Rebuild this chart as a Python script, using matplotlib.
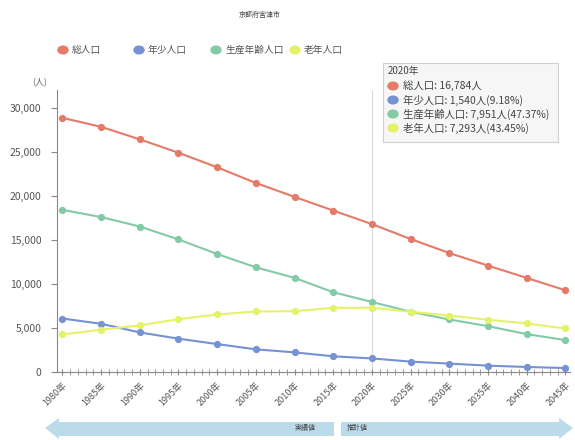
import matplotlib.pyplot as plt
import numpy as np
from matplotlib.patches import Polygon, FancyBboxPatch
from matplotlib.ticker import FuncFormatter, MultipleLocator

plt.rcParams['font.family'] = ['Noto Sans CJK JP', 'DejaVu Sans']

years = [1980, 1985, 1990, 1995, 2000, 2005, 2010, 2015, 2020, 2025, 2030, 2035, 2040, 2045]
total = [28840, 27820, 26400, 24880, 23230, 21450, 19870, 18320, 16784, 15090, 13500, 12070, 10680, 9270]
youth = [6070, 5470, 4490, 3780, 3170, 2570, 2230, 1780, 1540, 1180, 950, 720, 570, 450]
working = [18400, 17580, 16510, 15040, 13390, 11880, 10680, 9050, 7951, 6830, 5960, 5200, 4300, 3620]
elderly = [4260, 4800, 5280, 6000, 6530, 6870, 6900, 7280, 7293, 6830, 6410, 5930, 5510, 4940]

names = ['総人口', '年少人口', '生産年齢人口', '老年人口']
colors = ['#e57a68', '#7592d2', '#84caa6', '#e4f26a']
tip_text = ['総人口: 16,784人', '年少人口: 1,540人(9.18%)',
            '生産年齢人口: 7,951人(47.37%)', '老年人口: 7,293人(43.45%)']

fig = plt.figure(figsize=(5.75, 4.4), dpi=100)
ax = fig.add_axes([57/575, 1-372/440, 513/575, 282/440])

for vals, c in zip([total, youth, working, elderly], colors):
    ax.plot(years, vals, color=c, lw=1.5, marker='o', ms=4.2, zorder=3)

ax.axvline(2020, color='#d8d8d8', lw=0.8, zorder=1)

ax.set_xlim(1979.3, 2045.6)
ax.set_ylim(0, 32000)
ax.yaxis.set_major_locator(MultipleLocator(5000))
ax.yaxis.set_major_formatter(FuncFormatter(lambda v, p: f'{int(v):,}'))
ax.set_xticks(years)
ax.set_xticklabels([f'{y}年' for y in years], rotation=45, ha='right',
                   rotation_mode='anchor', fontsize=6.5, color='#555555')
ax.xaxis.set_minor_locator(MultipleLocator(1))
ax.tick_params(axis='x', which='both', direction='inout', length=5, color='#888888')
ax.tick_params(axis='y', labelsize=7.5, color='#888888', labelcolor='#555555',
               length=4, pad=7)
for s in ['top', 'right']:
    ax.spines[s].set_visible(False)
for s in ['left', 'bottom']:
    ax.spines[s].set_color('#888888')

fig.text(40/575, 1-83/440, '(人)', fontsize=6.5, color='#666666', ha='center', va='center')
fig.text(260/575, 1-15/440, '京都府宮津市', fontsize=5, color='#444444', ha='center', va='center')

# legend row
leg_x = [63, 139, 216, 295]
for x, n, c in zip(leg_x, names, colors):
    fig.patches.append(plt.Circle((x/575, 1-50/440), 5/575, color=c,
                                  transform=fig.transFigure, figure=fig))
    fig.text((x+9)/575, 1-50/440, n, fontsize=7, color='#555555', va='center')

# tooltip box
box = FancyBboxPatch((383/575, 1-142/440), 175/575, 79/440, boxstyle='square,pad=0',
                     transform=fig.transFigure, facecolor='#f6f6f6', edgecolor='#cccccc',
                     lw=0.8, alpha=0.9, zorder=5)
fig.patches.append(box)
fig.text(388/575, 1-71/440, '2020年', fontsize=7, color='#444444', va='center', zorder=6)
for i, (t, c) in enumerate(zip(tip_text, colors)):
    yy = 1 - (86 + i*14)/440
    fig.patches.append(plt.Circle((393/575, yy), 5/575, color=c, zorder=6,
                                  transform=fig.transFigure, figure=fig))
    fig.text(403/575, yy, t, fontsize=7.5, color='#444444', va='center', zorder=6)

# bottom arrows
W, H = 575, 440
def fpt(px, py):
    return (px/W, 1-py/H)
left_arrow = [fpt(45, 428), fpt(59, 418), fpt(59, 422), fpt(334, 422),
              fpt(334, 436), fpt(59, 436), fpt(59, 439)]
right_arrow = [fpt(341, 422), fpt(559, 422), fpt(559, 418), fpt(573, 428),
               fpt(559, 439), fpt(559, 436), fpt(341, 436)]
for pts in [left_arrow, right_arrow]:
    fig.patches.append(Polygon(pts, closed=True, transform=fig.transFigure,
                               facecolor='#bcdbea', edgecolor='none'))
fig.text(316/575, 1-428/440, '実績値', fontsize=5, color='#444444', ha='right', va='center')
fig.text(347/575, 1-428/440, '推計値', fontsize=5, color='#444444', ha='left', va='center')

fig.savefig('out.png', dpi=100)
